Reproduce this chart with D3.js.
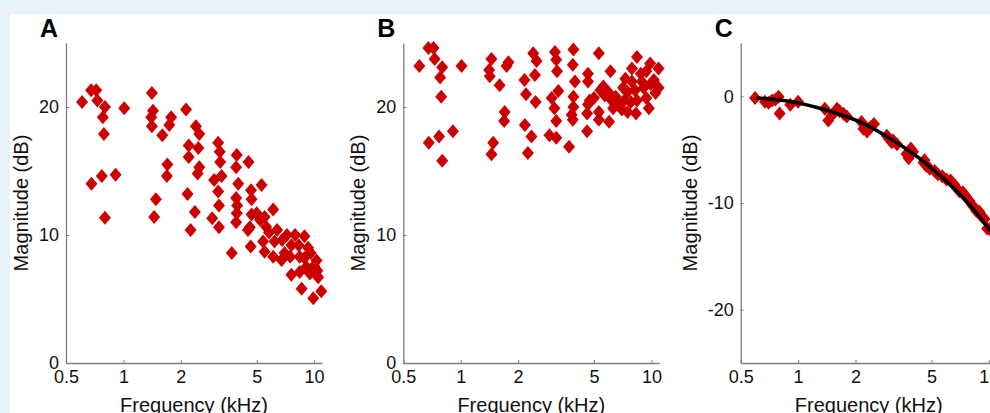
<!DOCTYPE html>
<html>
<head>
<meta charset="utf-8">
<script src="https://cdn.jsdelivr.net/npm/d3@7/dist/d3.min.js"></script>
<style>
  html, body { margin: 0; padding: 0; background: #e8f2f9; }
  svg { display: block; font-family: 'Liberation Sans', Arial, sans-serif; }
  .axis path, .axis line { stroke: #7d7d7d; }
  .axis text { fill: #111; font-size: 18px; }
</style>
</head>
<body>
<div id="chart"></div>
<script>
'use strict';

// panel A: magnitude of the first measurement
var freqA = [0.607, 0.677, 0.72, 0.73, 0.80, 0.78, 0.79, 1.01, 0.68, 0.77, 0.91, 0.80,
  1.41, 1.43, 1.40, 1.41, 1.60, 1.74, 1.78, 1.70, 1.69, 1.48, 1.45,
  2.13, 2.40, 2.50, 2.20, 2.20, 2.47, 2.50, 2.45, 2.17, 2.37, 2.25,
  3.14, 3.20, 3.22, 2.99, 3.27, 3.14, 3.17, 2.92, 3.17,
  3.93, 3.90, 4.53, 4.00, 3.90, 3.95, 3.93, 3.90, 3.70,
  4.67, 4.70, 5.30, 6.10, 4.70, 4.60, 4.65, 5.50, 5.60, 5.40, 5.50,
  6.40, 6.20, 6.10, 7.20, 7.95, 8.90, 7.60, 8.30, 9.30, 6.75, 7.50, 8.40,
  9.10, 10.3, 7.60, 8.40, 9.50, 10.5, 8.60, 10.9, 9.90, 9.60, 8.90,
  4.50, 5.00, 5.20, 5.80, 10.0, 10.4, 6.80, 7.00];
var magA = [20.4, 21.3, 21.3, 20.5, 20.0, 19.2, 17.9, 19.9, 14.0, 14.6, 14.7, 11.35,
  21.1, 19.7, 19.2, 18.5, 17.8, 18.6, 19.2, 15.5, 14.6, 12.8, 11.4,
  19.8, 18.5, 17.9, 17.0, 16.1, 16.8, 15.3, 14.8, 13.2, 11.8, 10.4,
  17.2, 16.5, 15.7, 14.3, 14.6, 13.4, 12.3, 11.3, 10.6,
  16.25, 15.3, 15.7, 14.0, 12.9, 12.3, 11.7, 11.0, 8.6,
  13.5, 12.8, 13.9, 12.0, 11.6, 10.6, 9.1, 11.4, 10.65, 9.5, 8.7,
  10.4, 9.5, 8.3, 10.0, 10.0, 9.9, 9.2, 9.2, 9.0, 8.05, 8.3, 8.3,
  7.5, 8.0, 6.9, 7.1, 7.0, 6.7, 5.8, 5.6, 5.05, 8.6, 8.2,
  10.4, 11.7, 11.2, 10.2, 7.6, 7.2, 9.6, 8.6];

// panel B: magnitude of the second measurement
var freqB = [0.607, 0.677, 0.72, 0.73, 0.80, 0.78, 0.79, 1.01, 0.68, 0.77, 0.91, 0.80,
  1.45, 1.41, 1.42, 1.60, 1.78, 1.74, 1.70, 1.69, 1.48, 1.45,
  2.16, 2.20, 2.17, 2.25, 2.40, 2.50, 2.45, 2.47, 2.35,
  3.12, 3.17, 3.20, 3.00, 3.25, 3.10, 3.17, 2.92, 3.17,
  3.90, 3.87, 3.97, 3.90, 3.90, 3.82, 3.87, 3.70,
  4.65, 4.65, 4.75, 4.65, 4.60, 4.60, 5.30, 5.00, 5.30, 5.30,
  6.10, 5.40, 6.00, 6.20, 6.00,
  8.40, 9.85, 9.40, 7.90, 7.30, 7.90, 8.90, 10.3, 7.10, 7.50, 8.20, 9.10, 10.5,
  6.50, 7.20, 7.80, 8.40, 9.40, 7.00, 7.50, 8.30, 9.70, 6.70, 10.9, 10.9,
  5.70, 6.30, 8.80, 9.90, 5.60];
var magB = [23.2, 24.6, 24.6, 23.75, 23.1, 22.3, 20.8, 23.2, 17.2, 17.7, 18.1, 15.8,
  23.75, 22.9, 22.4, 21.7, 23.5, 23.2, 19.6, 18.9, 17.2, 16.3,
  22.1, 21.0, 18.6, 16.4, 24.2, 23.6, 22.5, 20.4, 17.7,
  24.3, 23.7, 22.8, 20.7, 21.25, 19.9, 18.9, 17.8, 17.6,
  24.5, 23.3, 22.0, 20.8, 20.0, 19.4, 19.0, 16.9,
  22.6, 22.0, 20.5, 20.2, 19.5, 18.1, 24.2, 20.7, 19.6, 19.0,
  22.8, 21.3, 21.1, 20.5, 18.85,
  23.9, 23.4, 22.8, 23.0, 22.2, 22.0, 22.0, 22.1, 21.5, 21.2, 21.3, 21.5, 21.1,
  20.8, 20.5, 20.4, 20.5, 20.7, 19.8, 19.6, 19.5, 19.9, 20.2, 23.0, 21.5,
  20.9, 19.9, 22.6, 21.8, 21.6];

// panel C: normalised response and fitted curve
var freqC = [0.595, 0.67, 0.73, 0.79, 0.80, 0.91, 1.00, 1.38, 1.44, 1.60, 1.73,
  2.15, 2.20, 2.50, 2.33, 2.92, 3.15, 3.70, 3.90, 4.55, 4.70, 5.40, 6.30,
  7.00, 7.90, 8.60, 9.50, 9.00, 10.3, 9.80,
  0.70, 0.76, 1.50, 1.65, 1.80, 2.30, 2.40, 3.00, 3.30, 3.10, 3.80, 4.00,
  4.60, 4.90, 5.20, 5.70, 6.00, 6.60, 7.30, 7.60, 8.20, 8.90, 9.20, 10.5, 10.9];
var magC = [-0.15, -0.5, -0.4, -0.05, -1.6, -0.8, -0.5, -1.16, -2.26, -1.16, -1.63,
  -2.4, -3.05, -2.6, -3.05, -3.7, -4.15, -5.4, -4.9, -6.2, -6.5, -7.3, -7.9,
  -8.9, -9.8, -10.75, -11.5, -11.0, -12.3, -12.4,
  -0.6, -0.3, -1.8, -1.4, -1.9, -3.3, -2.9, -4.0, -4.5, -4.3, -5.8, -5.2,
  -6.0, -6.8, -7.0, -7.5, -7.8, -8.3, -9.0, -9.4, -10.2, -10.8, -11.3, -12.8, -13.2];
var fitFreq = [0.607, 0.94, 1.41, 2.11, 3.16, 4.72, 7.06, 10.1, 11.0];
var fitMag = [-0.15, -0.53, -1.3, -2.4, -4.15, -6.35, -9.2, -12.5, -13.5];

var freqTicks = [0.5, 1, 2, 5, 10];
var magTicksAB = [0, 10, 20];
var magTicksC = [-20, -10, 0];

(function () {

  var red = '#cc0000';

  var W = 990, H = 413;
  var plotTop = 43, plotH = 320, plotW = 256;

  var svg = d3.select('#chart').append('svg')
      .attr('width', W)
      .attr('height', H);

  svg.append('rect').attr('width', W).attr('height', H).attr('fill', '#e8f2f9');
  svg.append('rect').attr('x', 10).attr('y', 14).attr('width', W).attr('height', H).attr('fill', '#fff');

  // MATLAB style diamond, a bit taller than wide
  var diamond = 'M0,-7L6,0L0,7L-6,0Z';

  function drawPanel(p) {
    var g = svg.append('g')
        .attr('transform', 'translate(' + p.left + ',' + plotTop + ')');

    var x = d3.scaleLog().domain([0.5, 11]).range([0, plotW]);
    var y = d3.scaleLinear().domain(p.yDomain).range([plotH, 0]);

    g.append('g')
        .attr('class', 'axis')
        .attr('transform', 'translate(0,' + plotH + ')')
        .call(d3.axisBottom(x).tickValues(freqTicks).tickFormat(d3.format('')).tickSizeInner(-3).tickSizeOuter(0).tickPadding(7));

    g.append('g')
        .attr('class', 'axis')
        .call(d3.axisLeft(y).tickValues(p.yTicks).tickFormat(function (d) { return d < 0 ? '-' + Math.abs(d) : d; })
          .tickSizeInner(-3).tickSizeOuter(0).tickPadding(7));

    g.selectAll('.axis .domain').attr('stroke-width', 1.3);

    var pts = p.xs.map(function (f, i) { return [f, p.ys[i]]; });

    g.selectAll('path.pt')
        .data(pts)
        .enter()
        .append('path')
        .attr('class', 'pt')
        .attr('d', diamond)
        .attr('fill', red)
        .attr('transform', function (d) { return 'translate(' + x(d[0]) + ',' + y(d[1]) + ')'; });

    if (p.fit) {
      var line = d3.line()
          .x(function (d) { return x(d[0]); })
          .y(function (d) { return y(d[1]); })
          .curve(d3.curveCatmullRom);
      g.append('path')
          .datum(p.fit)
          .attr('d', line)
          .attr('fill', 'none')
          .attr('stroke', '#000')
          .attr('stroke-width', 3.5);
    }

    // labels
    g.append('text')
        .attr('x', -26)
        .attr('y', -6)
        .attr('font-size', 25)
        .attr('font-weight', 'bold')
        .attr('fill', '#000')
        .text(p.letter);

    g.append('text')
        .attr('transform', 'translate(' + (-p.labelOffset) + ',' + (plotH / 2) + ') rotate(-90)')
        .attr('text-anchor', 'middle')
        .attr('font-size', 20)
        .attr('fill', '#111')
        .text('Magnitude (dB)');

    g.append('text')
        .attr('x', plotW / 2)
        .attr('y', plotH + 48.5)
        .attr('text-anchor', 'middle')
        .attr('font-size', 20)
        .attr('fill', '#111')
        .text('Frequency (kHz)');
  }

  drawPanel({ letter: 'A', left: 66, xs: freqA, ys: magA, yDomain: [0, 25], yTicks: magTicksAB, labelOffset: 38 });
  drawPanel({ letter: 'B', left: 403.3, xs: freqB, ys: magB, yDomain: [0, 25], yTicks: magTicksAB, labelOffset: 38 });
  drawPanel({ letter: 'C', left: 740.7, xs: freqC, ys: magC, yDomain: [-25, 5], yTicks: magTicksC, labelOffset: 44,
    fit: fitFreq.map(function (f, i) { return [f, fitMag[i]]; }) });

})();
</script>
</body>
</html>
